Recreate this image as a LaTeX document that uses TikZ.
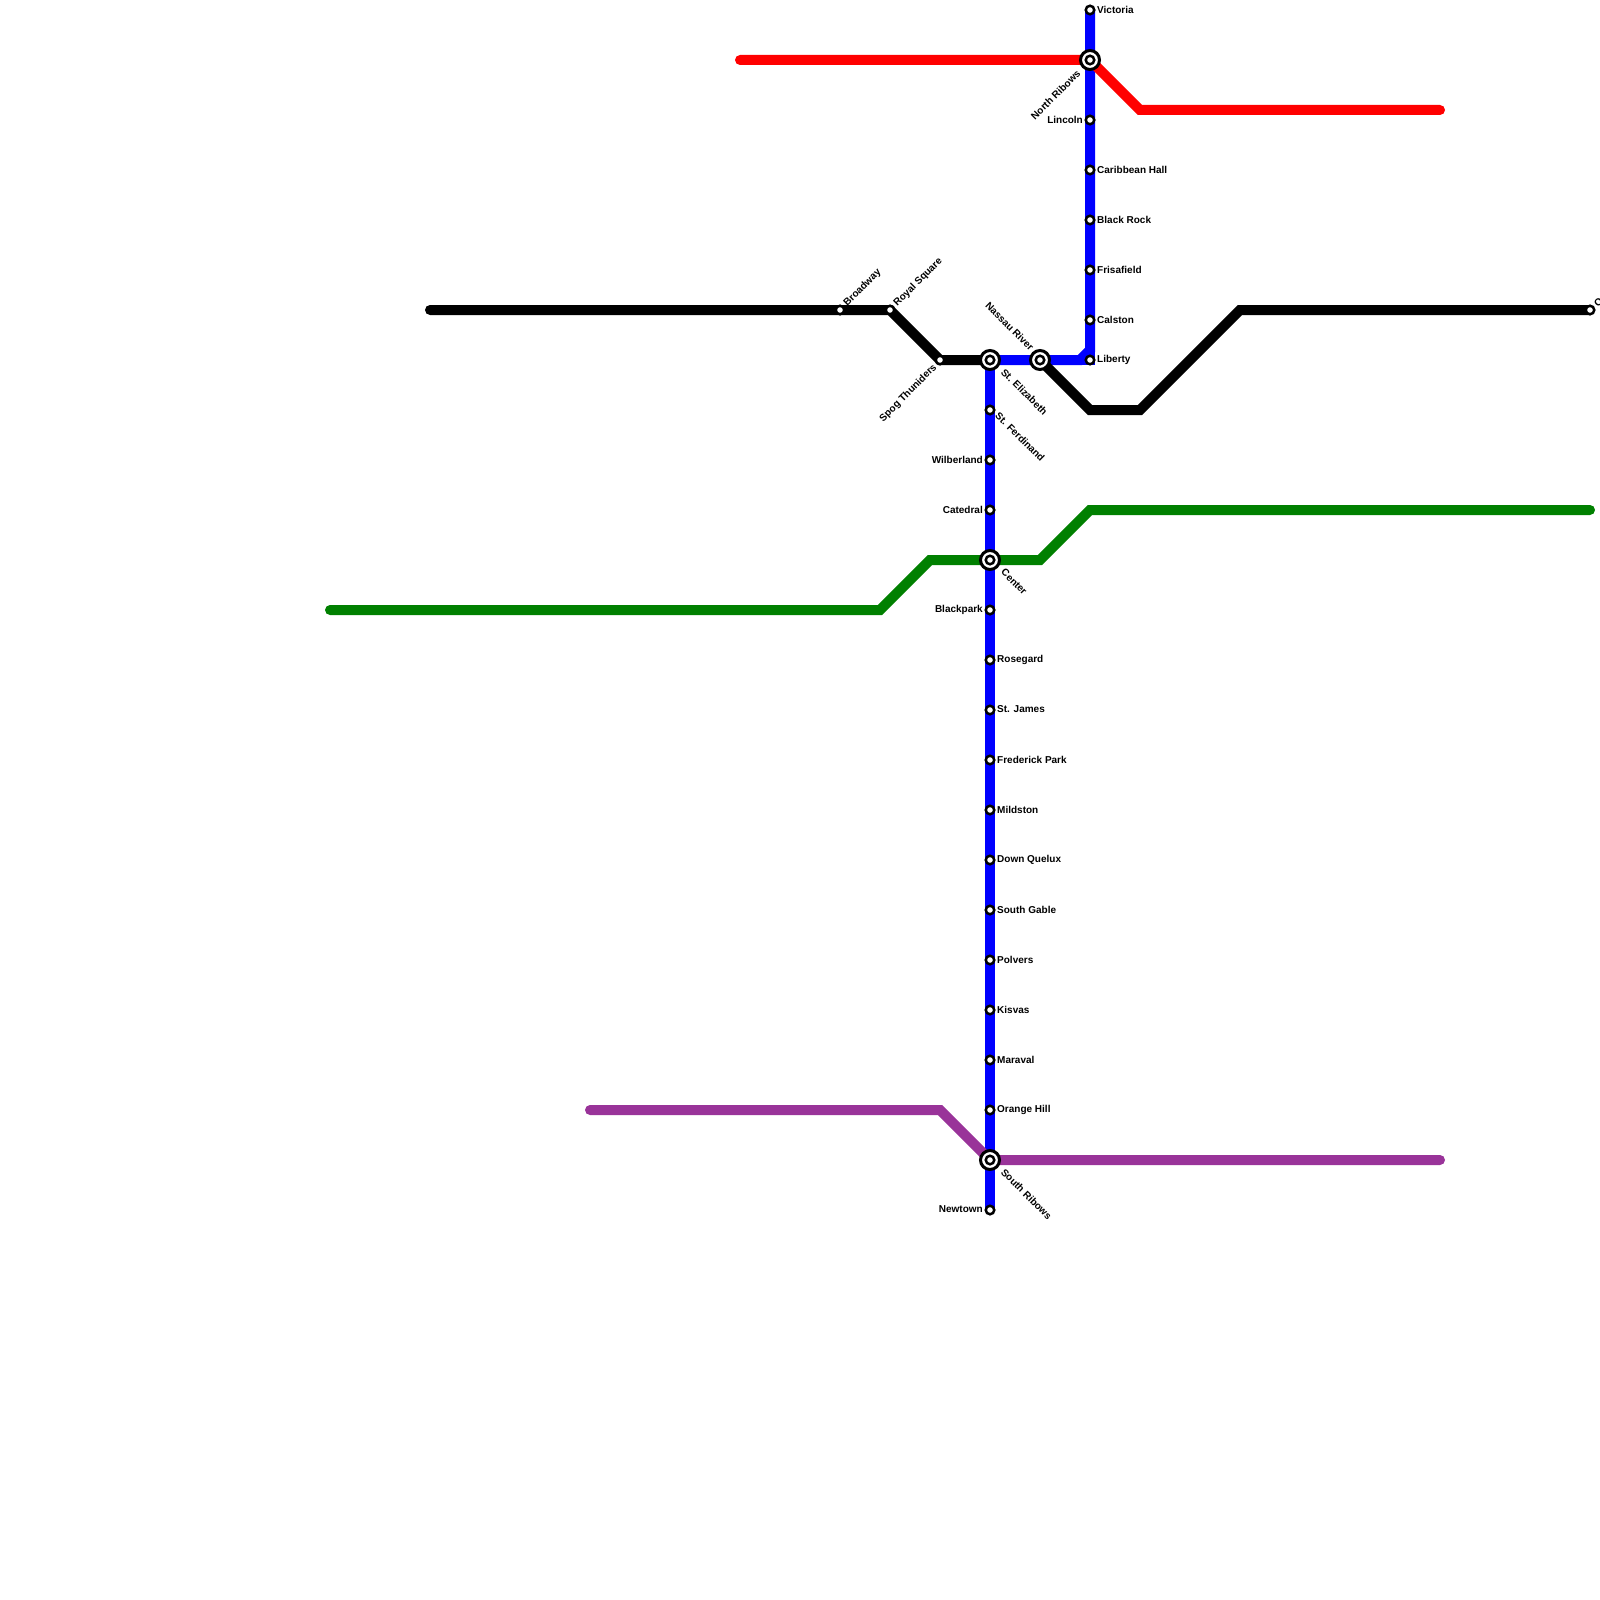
\documentclass[tikz,border=0pt]{standalone}
\usepackage{fontspec}
\setmainfont{Liberation Sans}
\usetikzlibrary{backgrounds}
\definecolor{lineBlue}{HTML}{0000FF}
\definecolor{lineRed}{HTML}{FF0000}
\definecolor{lineGreen}{HTML}{008000}
\definecolor{linePurple}{HTML}{993399}
\tikzset{
  stnode/.style={
    circle,
    draw=black,
    fill=white,
    line width=2.5pt,
    minimum size=8.5pt,
    inner sep=0pt
  },
  hubnode/.style={
    circle,
    draw=black,
    fill=white,
    line width=3pt,
    minimum size=19pt,
    inner sep=0pt,
    path picture={\draw[line width=2.5pt] (path picture bounding box.center) circle (4.25pt);}
  },
  stlabel/.style={
    font=\bfseries\fontsize{10}{12}\selectfont,
    inner sep=0pt,
    text=black
  },
  labright/.style={label={[stlabel,anchor=west,label distance=1.5pt,yshift=0.5pt]0:#1}},
  lableft/.style={label={[stlabel,anchor=east,label distance=1.5pt,yshift=0.5pt]180:#1}},
  labupright/.style={label={[stlabel,rotate=45,anchor=west,label distance=3.1pt,xshift=-0.3pt,yshift=-2.5pt]45:#1}},
  labdownleft/.style={label={[stlabel,rotate=45,anchor=east,label distance=3.1pt,yshift=1pt]225:#1}},
  labdownright/.style={label={[stlabel,rotate=-45,anchor=west,label distance=3.1pt,xshift=0pt,yshift=4.5pt]-45:#1}},
  labupleft/.style={label={[stlabel,rotate=-45,anchor=east,label distance=3.4pt]135:#1}},
  hubdownleft/.style={label={[stlabel,rotate=45,anchor=east,label distance=6pt,xshift=-1pt,yshift=4pt]225:#1}},
  hubdownright/.style={label={[stlabel,rotate=-45,anchor=west,label distance=6pt,xshift=1.2pt,yshift=6pt]-45:#1}},
  metro/.style={
    line width=10pt,
    line cap=round,
    line join=miter
  }
}
\begin{document}
\begin{tikzpicture}[x=1pt,y=-1pt]
\useasboundingbox (0,0) rectangle (1600,1600);

\node[stnode, labright=Victoria] (victoria) at (1090,10) {};
\node[hubnode, hubdownleft=North Ribows] (northRibows) at (1090,60) {};
\node[stnode, lableft=Lincoln] (lincoln) at (1090,120) {};
\node[stnode, labright=Caribbean Hall] (caribbean) at (1090,170) {};
\node[stnode, labright=Black Rock] (blackRock) at (1090,220) {};
\node[stnode, labright=Frisafield] (frisafield) at (1090,270) {};
\node[stnode, labright=Calston] (calston) at (1090,320) {};
\node[stnode, labright=Liberty] (liberty) at (1090,360) {};

\node[stnode, labupright=Broadway] (broadway) at (840,310) {};
\node[stnode, labupright=Royal Square] (royalSquare) at (890,310) {};
\node[stnode, labdownleft=Spog Thuniders] (spog) at (940,360) {};
\node[hubnode, labupleft=Nassau River] (nassau) at (1040,360) {};
\node[stnode, labupright=O] (lastBlack) at (1590,310) {};

\node[hubnode, hubdownright=St. Elizabeth] (stElizabeth) at (990,360) {};
\node[stnode, labdownright=St. Ferdinand] (stFerdinand) at (990,410) {};
\node[stnode, lableft=Wilberland] (wilberland) at (990,460) {};
\node[stnode, lableft=Catedral] (catedral) at (990,510) {};
\node[hubnode, hubdownright=Center] (center) at (990,560) {};
\node[stnode, lableft=Blackpark] (blackpark) at (990,610) {};
\node[stnode, labright=Rosegard] (rosegard) at (990,660) {};
\node[stnode, labright=St. James] (stJames) at (990,710) {};
\node[stnode, labright=Frederick Park] (frederick) at (990,760) {};
\node[stnode, labright=Mildston] (mildston) at (990,810) {};
\node[stnode, labright=Down Quelux] (downQuelux) at (990,860) {};
\node[stnode, labright=South Gable] (southGable) at (990,910) {};
\node[stnode, labright=Polvers] (polvers) at (990,960) {};
\node[stnode, labright=Kisvas] (kisvas) at (990,1010) {};
\node[stnode, labright=Maraval] (maraval) at (990,1060) {};
\node[stnode, labright=Orange Hill] (orangeHill) at (990,1110) {};
\node[hubnode, hubdownright=South Ribows] (southRibows) at (990,1160) {};
\node[stnode, lableft=Newtown] (newtown) at (990,1210) {};

\coordinate (redA) at (740,60);
\coordinate (redB) at (1140,110);
\coordinate (redC) at (1440,110);
\coordinate (blackA) at (430,310);
\coordinate (blackB) at (1090,410);
\coordinate (blackC) at (1140,410);
\coordinate (blackD) at (1240,310);
\coordinate (greenA) at (330,610);
\coordinate (greenB) at (880,610);
\coordinate (greenC) at (930,560);
\coordinate (greenD) at (1040,560);
\coordinate (greenE) at (1090,510);
\coordinate (greenF) at (1590,510);
\coordinate (purpleA) at (590,1110);
\coordinate (purpleB) at (940,1110);
\coordinate (purpleC) at (1440,1160);
\coordinate (blueA) at (1080,360);
\coordinate (blueB) at (1090,350);

\begin{scope}[on background layer]
\draw[metro, draw=lineBlue] (stElizabeth.center) -- (newtown.center);
\draw[metro, draw=lineBlue] (stElizabeth.center) -- (nassau.center) -- (blueA) -- (blueB) -- (victoria.center);
\draw[metro, draw=lineBlue] (blueA) -- (liberty.center) -- (blueB);
\draw[metro, draw=lineRed] (redA) -- (northRibows.center) -- (redB) -- (redC);
\draw[metro, draw=black] (blackA) -- (broadway.center) -- (royalSquare.center) -- (spog.center) -- (stElizabeth.center);
\draw[metro, draw=black] (nassau.center) -- (blackB) -- (blackC) -- (blackD) -- (lastBlack.center);
\draw[metro, draw=lineGreen] (greenA) -- (greenB) -- (greenC) -- (center.center) -- (greenD) -- (greenE) -- (greenF);
\draw[metro, draw=linePurple] (purpleA) -- (purpleB) -- (southRibows.center) -- (purpleC);
\end{scope}

\end{tikzpicture}
\end{document}
